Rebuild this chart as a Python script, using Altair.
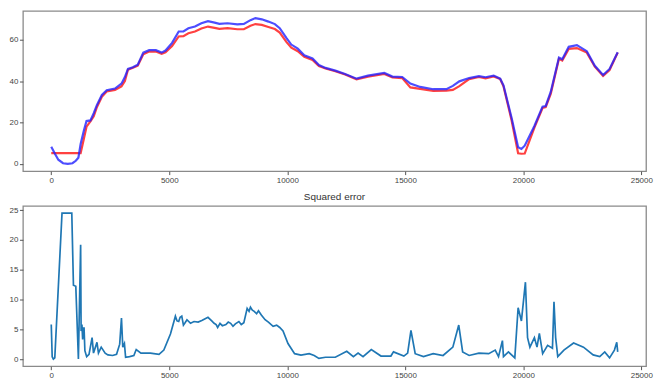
import altair as alt
import pandas as pd

# ---- top panel data (shared x positions) ----
x_top = [0, 150, 300, 500, 700, 900, 1040, 1150, 1245, 1380, 1494, 1660, 1800, 1937,
         2145, 2350, 2700, 2975, 3120, 3250, 3460, 3665, 3900, 4150, 4430, 4676, 4840,
         5120, 5400, 5600, 5810, 6090, 6360, 6640, 6920, 7125, 7470, 7885, 8160, 8440,
         8650, 8920, 9200, 9475, 9680, 9960, 10170, 10445, 10720, 11070, 11340, 11620,
         12035, 12450, 12935, 13420, 14110, 14455, 14870, 15215, 15630, 16185, 16740,
         17015, 17290, 17705, 18120, 18400, 18745, 19020, 19160, 19505, 19780, 19920,
         20060, 20470, 20815, 20950, 21165, 21510, 21650, 21925, 22270, 22690, 23030,
         23380, 23655, 24000]
blue_vals = [8.3, 5.0, 2.0, 0.3, 0.0, 0.3, 1.5, 3.0, 9.6, 16.0, 20.7, 21.0, 24.5, 28.5,
             33.3, 35.6, 36.4, 38.8, 42.0, 45.9, 46.7, 48.0, 53.8, 55.0, 55.0, 53.8, 54.8,
             58.5, 64.0, 64.0, 65.6, 66.4, 68.0, 69.0, 68.3, 67.7, 68.0, 67.5, 67.7, 69.5,
             70.5, 69.9, 68.8, 67.6, 65.6, 60.9, 57.7, 55.7, 52.5, 51.0, 47.8, 46.4,
             45.1, 43.5, 41.2, 42.7, 44.0, 42.2, 42.0, 38.8, 37.2, 36.1, 36.1,
             37.7, 39.9, 41.5, 42.4, 41.9, 42.7, 41.2, 38.0, 22.2, 8.0, 7.2,
             8.8, 18.3, 27.7, 28.0, 34.9, 51.4, 50.6, 56.6, 57.4, 54.5, 47.4,
             43.0, 45.9, 54.0]
red_vals = [5.2, 5.2, 5.2, 5.2, 5.2, 5.2, 5.2, 5.2, 5.2, 12.0, 18.0, 20.5, 23.0, 27.5,
            32.5, 35.0, 35.8, 37.5, 40.0, 45.5, 46.5, 47.5, 53.0, 54.3, 54.3, 53.2, 54.0,
            57.0, 61.6, 61.8, 63.2, 64.0, 65.5, 66.4, 65.8, 65.3, 65.6, 65.1, 65.1, 66.8,
            67.6, 67.2, 66.2, 65.2, 63.5, 59.0, 56.2, 54.5, 51.8, 50.3, 47.3, 46.1,
            44.8, 43.2, 40.9, 42.2, 43.5, 41.8, 41.5, 37.0, 36.3, 35.3, 35.4,
            35.8, 37.6, 41.0, 42.0, 41.4, 42.3, 41.0, 37.5, 21.0, 5.1, 4.9,
            5.0, 17.5, 27.0, 27.5, 34.0, 50.8, 50.0, 55.6, 56.0, 53.8, 47.0,
            42.5, 45.4, 53.8]

# ---- bottom panel data ----
x_err = [0, 40, 90, 150, 456, 870, 940, 1040, 1150, 1245, 1265, 1300, 1330, 1360, 1390,
         1425, 1500, 1600, 1730, 1790, 1937, 2000, 2117, 2283, 2400, 2600, 2767, 2900,
         2975, 3030, 3100, 3150, 3320, 3500, 3600, 3800, 4200, 4565, 4770, 5050, 5260,
         5330, 5400, 5460, 5530, 5600, 5670, 5750, 5900, 6050, 6225, 6400, 6640, 6800,
         6900, 6985, 7050, 7150, 7250, 7400, 7500, 7600, 7700, 7800, 7950, 8050, 8160,
         8300, 8380, 8440, 8520, 8600, 8700, 8780, 8900, 9060, 9200, 9400, 9550, 9680,
         9820, 10030, 10310, 10580, 10930, 11140, 11340, 11620, 12035, 12520, 12800,
         13000, 13210, 13560, 13970, 14390, 14500, 14940, 15100, 15240, 15420, 15770,
         16185, 16600, 17015, 17265, 17430, 17705, 18120, 18535, 18810, 18950, 19115,
         19160, 19370, 19640, 19780, 19920, 20090, 20180, 20280, 20470, 20580, 20680,
         20820, 21030, 21235, 21300, 21370, 21460, 21720, 22130, 22550, 22960, 23240,
         23450, 23655, 23860, 23960, 24000]
err_vals = [5.8, 0.4, 0.0, 0.2, 24.5, 24.5, 12.4, 12.2, 0.0, 19.2, 4.7, 5.8, 3.3, 5.2, 5.2,
            1.4, 0.4, 0.8, 3.6, 1.0, 2.8, 1.0, 2.0, 1.0, 0.7, 0.6, 0.8, 2.5,
            6.9, 2.0, 2.6, 0.3, 0.4, 0.6, 1.6, 1.0, 1.0, 0.8, 1.5, 4.2, 7.2,
            6.4, 6.3, 7.0, 7.2, 5.7, 6.1, 6.6, 6.0, 6.3, 6.2, 6.5, 7.0, 6.4,
            6.0, 5.8, 5.3, 6.0, 5.6, 5.8, 6.2, 6.0, 5.5, 5.9, 6.3, 5.8, 6.1,
            8.5, 8.0, 8.7, 8.2, 8.0, 7.6, 8.1, 7.4, 6.6, 6.2, 5.5, 5.7, 5.3,
            4.7, 2.6, 0.9, 0.65, 0.9, 0.6, 0.1, 0.3, 0.3, 1.3, 0.4,
            1.0, 0.4, 1.6, 0.5, 0.5, 1.2, 0.5, 1.0, 4.8, 0.9, 0.4,
            0.9, 0.6, 2.0, 5.7, 1.2, 0.6, 1.0, 0.9, 1.5, 0.4, 3.1,
            0.4, 1.2, 0.2, 8.6, 6.4, 12.9, 3.6, 2.0, 3.6, 2.0, 4.3,
            0.9, 2.3, 1.8, 9.6, 3.6, 0.4, 1.5, 2.7, 2.0, 0.7, 0.4,
            1.2, 0.2, 1.5, 2.8, 1.2]

x_ticks = [0, 5000, 10000, 15000, 20000, 25000]
top_ticks = [0, 10, 20, 30, 40, 50, 60, 70]
err_ticks = [0, 5, 10, 15, 20, 25]
err_title = "Squared error"

top_df = pd.DataFrame({"x": x_top, "blue": blue_vals, "red": red_vals})
err_df = pd.DataFrame({"x": x_err, "err": err_vals})

W, H = 626, 161
FONT = "Liberation Sans"
xscale = alt.Scale(domain=[-1200, 25200], nice=False, zero=False)
xaxis = alt.Axis(values=x_ticks, title=None, format="d")

base = alt.Chart(top_df)
red_line = base.mark_line(color="#ff2020", strokeWidth=2.2, opacity=0.85).encode(
    x=alt.X("x:Q", scale=xscale, axis=xaxis),
    y=alt.Y("red:Q", scale=alt.Scale(domain=[-3.5, 74], nice=False, zero=False),
            axis=alt.Axis(values=top_ticks, title=None)),
)
blue_line = base.mark_line(color="#2020ff", strokeWidth=2.2, opacity=0.8).encode(
    x=alt.X("x:Q", scale=xscale, axis=xaxis),
    y=alt.Y("blue:Q"),
)
top = alt.layer(red_line, blue_line).properties(width=W, height=H)

bottom = alt.Chart(err_df).mark_line(color="#1f77b4", strokeWidth=1.7).encode(
    x=alt.X("x:Q", scale=xscale, axis=xaxis),
    y=alt.Y("err:Q", scale=alt.Scale(domain=[-1.2, 25.7], nice=False, zero=False),
            axis=alt.Axis(values=err_ticks, title=None)),
).properties(width=W, height=H, title=alt.TitleParams(err_title, fontSize=10,
                                                       fontWeight="normal", offset=4,
                                                       color="#333"))

chart = alt.vconcat(top, bottom, spacing=6).properties(
    padding={"left": 0, "top": 1, "right": 0, "bottom": -2}
).configure_view(stroke="#8a8a8a", strokeWidth=1.3).configure_axis(
    grid=False, domain=False, tickColor="#555", tickSize=3.5, labelFontSize=8,
    labelColor="#444", labelPadding=1.5, labelFont=FONT
).configure_title(font=FONT)

chart.save("out.html", embed_options={"renderer": "svg", "actions": False})
